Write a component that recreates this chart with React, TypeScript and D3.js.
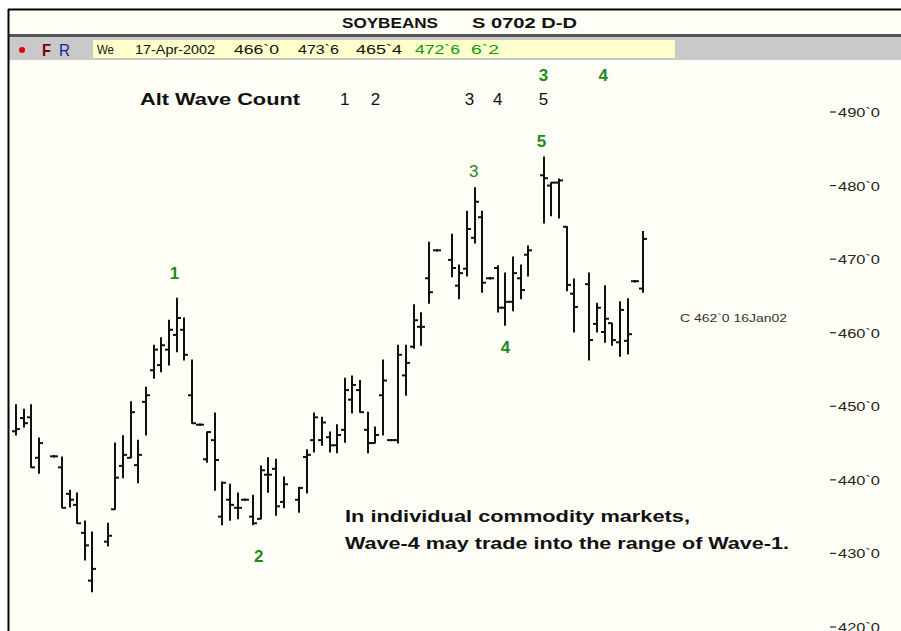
import React from "react";
import * as d3 from "d3";

// trading-day slot index (gaps = days with no bar drawn)
const dayIndex = [0,1,2,3,5,6,7,8,9,10,12,13,14,15,16,17,18,19,20,21,22,23,24,25,26,27,28,29,30,31,32,33,34,35,37,38,39,40,41,42,43,44,45,46,47,48,49,50,51,52,53,54,55,57,58,59,60,61,62,63,64,65,66,67,69,70,71,72,73,75,76,77,78,79,80,81,82];
const opens  = [446.6,448.4,448.5,443.0,443.2,441.7,438.1,436.6,432.8,426.3,431.6,436.0,441.9,443.0,442.0,450.6,454.9,455.6,457.7,459.7,460.4,451.5,447.5,442.8,445.4,435.0,437.3,436.2,437.3,435.0,434.7,440.7,441.5,437.0,437.3,443.1,445.4,445.4,445.8,444.7,446.8,450.9,452.2,446.8,445.0,451.5,445.4,445.4,454.2,458.1,460.8,467.4,471.2,469.9,466.4,468.7,472.9,475.7,467.4,468.8,463.4,464.2,467.4,470.6,481.4,480.0,480.4,474.4,465.3,466.6,461.2,460.1,461.3,458.7,458.9,467.0,466.0];
const highs  = [450.2,449.6,450.2,445.7,443.3,443.1,438.6,438.2,434.4,432.9,434.1,445.0,446.0,450.6,445.4,452.6,458.3,459.3,461.7,464.7,462.0,456.3,447.6,446.5,449.1,439.7,439.4,438.2,437.4,437.9,441.9,443.0,442.8,440.4,439.0,444.1,449.1,448.5,446.5,447.5,453.8,454.1,453.5,449.2,447.2,456.3,445.5,458.3,458.3,463.8,462.7,472.3,471.3,473.4,469.2,476.5,479.7,476.5,467.5,469.1,468.1,470.3,469.2,471.8,483.9,480.4,480.9,474.4,467.3,468.1,464.0,466.4,461.3,464.2,464.6,467.1,473.75];
const lows   = [446.1,447.2,441.7,440.9,443.1,436.2,436.3,434.1,429.1,424.8,431.0,436.0,440.3,443.0,439.6,446.1,453.8,454.7,455.6,457.4,456.3,447.7,447.4,442.4,438.6,433.9,434.5,434.7,437.2,433.9,434.7,438.3,435.2,436.2,435.6,438.2,443.8,444.7,443.8,443.7,445.1,449.1,449.2,443.7,445.0,446.1,445.3,445.0,451.5,457.9,458.3,464.0,471.1,467.6,464.6,467.7,472.2,465.5,467.3,462.8,461.0,463.0,464.6,467.7,474.9,475.9,475.6,465.7,460.1,456.3,460.1,458.7,458.3,456.8,457.1,466.9,465.5];
const closes = [446.9,447.7,441.7,445.0,443.2,436.2,437.3,434.1,431.1,427.9,432.4,440.3,443.4,449.2,443.4,451.5,457.7,458.3,460.4,462.0,457.0,447.7,447.5,446.5,442.7,439.6,436.6,436.2,437.3,434.1,441.3,440.7,436.4,439.4,438.9,443.4,448.5,447.8,444.7,446.1,452.2,452.9,449.2,445.0,446.1,453.5,445.4,457.0,455.9,461.7,460.8,465.5,471.2,468.8,468.1,474.1,477.8,466.8,467.4,463.4,464.2,468.1,465.8,471.2,481.0,480.4,480.7,466.5,463.5,459.0,463.4,461.9,459.0,463.1,459.8,467.0,472.75];

const priceTicks = [490, 480, 470, 460, 450, 440, 430, 420];
const tickLabels = ["490`0", "480`0", "470`0", "460`0", "450`0", "440`0", "430`0", "420`0"];

const headerTitle = "SOYBEANS";
const headerSymbol = "S 0702 D-D";
const infoBlack = ["We", "17-Apr-2002", "466`0", "473`6", "465`4"];
const infoGreen = ["472`6", "6`2"];

const altLabel = "Alt Wave Count";
const altCounts = ["1", "2", "3", "4", "5"];
const altCountDays = [43, 47, 59.3, 63, 69];

// main wave labels
const waveLabels = ["1", "2", "3", "4", "5"];
const waveDays = [21, 32, 60, 64, 69];
const wavePrices = [468.1, 429.7, 482.0, 458.0, 486.1];

const upperLabels = ["3", "4"];
const upperDays = [69, 76.8];

const noteLines = ["In individual commodity markets,", "Wave-4 may trade into the range of Wave-1."];
const markerText = "C 462`0 16Jan02";

const FONT = "'Liberation Sans', Arial, Helvetica, sans-serif";
const GREEN = "#1e8a1e";

export default function App() {
  const W = 901, H = 631;
  const x = d3.scaleLinear().domain([0, 82]).range([16, 643]);
  const y = d3.scaleLinear().domain([420, 490]).range([627, 112]);

  const bars = dayIndex.map((d, i) => ({ d, o: opens[i], h: highs[i], l: lows[i], c: closes[i] }));
  const waveDx = [-2, -2, -1, 0, -2];

  return (
    <div style={{ position: "absolute", left: 0, top: 0, width: W, height: H, overflow: "hidden" }}>
      <svg width={W} height={H} style={{ display: "block" }} fontFamily={FONT}>
        <rect x={0} y={0} width={W} height={H} fill="#ffffff" />
        {/* plot background */}
        <rect x={9} y={60} width={W - 9} height={H - 60} fill="#fefef7" />
        {/* header */}
        <rect x={9} y={10} width={W - 9} height={25} fill="#fefef6" />
        <line x1={8} x2={W} y1={9.5} y2={9.5} stroke="#000" strokeWidth={2} />
        <rect x={9} y={34} width={W - 9} height={3} fill="#555" />
        <text x={342} y={28} fontSize={15} fontWeight="bold" textLength={96} lengthAdjust="spacingAndGlyphs" fill="#111">{headerTitle}</text>
        <text x={472} y={28} fontSize={15} fontWeight="bold" textLength={105} lengthAdjust="spacingAndGlyphs" fill="#111">{headerSymbol}</text>
        {/* toolbar */}
        <rect x={9} y={37} width={W - 9} height={23} fill="#c9c9c9" />
        <circle cx={22} cy={50} r={3} fill="#e00000" />
        <text x={42} y={56} fontSize={17} fontWeight="bold" textLength={9} lengthAdjust="spacingAndGlyphs" fill="#7a0000">F</text>
        <text x={59} y={56} fontSize={17} textLength={11} lengthAdjust="spacingAndGlyphs" fill="#1a1aa0">R</text>
        <rect x={93} y={40} width={582} height={18} fill="#ffffcc" />
        {infoBlack.map((t, i) => {
          const xs = [97, 135, 234, 298, 356];
          const ws = [17, 80, 45, 41, 46];
          return <text key={"ib" + i} x={xs[i]} y={54} fontSize={13} textLength={ws[i]} lengthAdjust="spacingAndGlyphs" fill="#111">{t}</text>;
        })}
        {infoGreen.map((t, i) => {
          const xs = [415, 471];
          const ws = [45, 28];
          return <text key={"ig" + i} x={xs[i]} y={54} fontSize={13} textLength={ws[i]} lengthAdjust="spacingAndGlyphs" fill="#0a9a0a">{t}</text>;
        })}
        {/* left border */}
        <line x1={8.5} x2={8.5} y1={9} y2={H} stroke="#000" strokeWidth={2} />

        {/* OHLC bars */}
        <g stroke="#111" strokeWidth={2}>
          {bars.map((b, i) => {
            const cx = Math.round(x(b.d));
            return (
              <g key={i}>
                <line x1={cx} x2={cx} y1={y(b.h) - 0.5} y2={y(b.l) + 0.5} />
                <line x1={cx - 4} x2={cx} y1={y(b.o)} y2={y(b.o)} />
                <line x1={cx} x2={cx + 4} y1={y(b.c)} y2={y(b.c)} />
              </g>
            );
          })}
        </g>

        {/* right price axis */}
        {priceTicks.map((p, i) => (
          <g key={"t" + i}>
            <line x1={830} x2={836} y1={y(p)} y2={y(p)} stroke="#222" strokeWidth={1.2} />
            <text x={880} y={y(p) + 5} fontSize={13} textAnchor="end" textLength={42} lengthAdjust="spacingAndGlyphs" fill="#222">{tickLabels[i]}</text>
          </g>
        ))}

        {/* marker label */}
        <text x={680} y={322} fontSize={11} textLength={107} lengthAdjust="spacingAndGlyphs" fill="#333">{markerText}</text>

        {/* alternate count */}
        <text x={140} y={105} fontSize={17} fontWeight="bold" textLength={160} lengthAdjust="spacingAndGlyphs" fill="#111">{altLabel}</text>
        {altCounts.map((t, i) => (
          <text key={"a" + i} x={x(altCountDays[i])} y={105} fontSize={17} textAnchor="middle" fill="#111">{t}</text>
        ))}
        {upperLabels.map((t, i) => (
          <text key={"u" + i} x={x(upperDays[i])} y={81} fontSize={17} fontWeight="bold" textAnchor="middle" fill={GREEN}>{t}</text>
        ))}
        {waveLabels.map((t, i) => (
          <text key={"w" + i} x={x(waveDays[i]) + waveDx[i]} y={y(wavePrices[i]) + 6} fontSize={17} fontWeight={i === 2 ? "normal" : "bold"} textAnchor="middle" fill={GREEN}>{t}</text>
        ))}

        {/* note */}
        <text x={345} y={522} fontSize={17} fontWeight="bold" textLength={345} lengthAdjust="spacingAndGlyphs" fill="#111">{noteLines[0]}</text>
        <text x={345} y={549} fontSize={17} fontWeight="bold" textLength={444} lengthAdjust="spacingAndGlyphs" fill="#111">{noteLines[1]}</text>
      </svg>
    </div>
  );
}
